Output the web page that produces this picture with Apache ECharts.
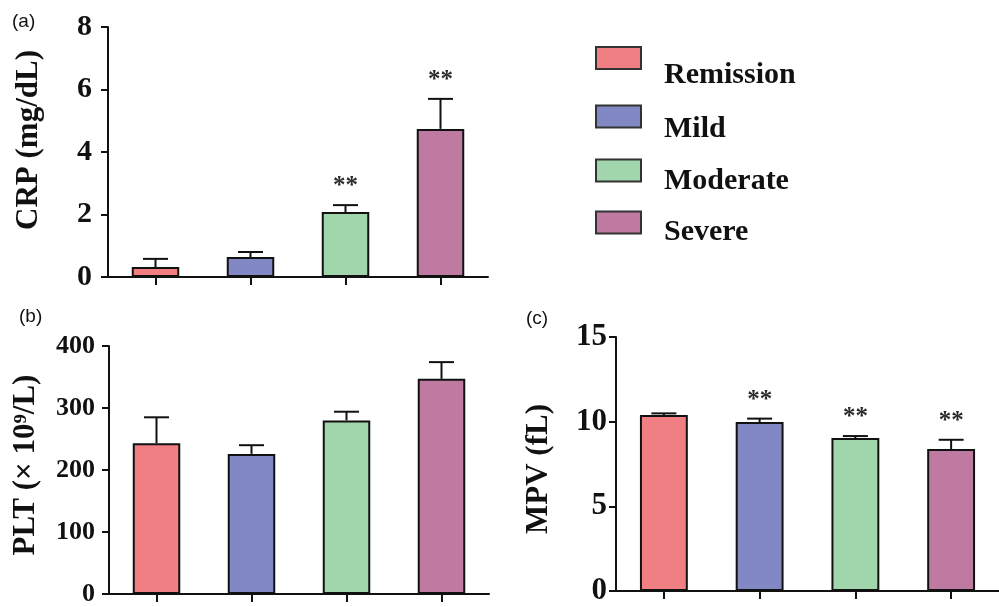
<!DOCTYPE html>
<html>
<head>
<meta charset="utf-8">
<script src="https://cdn.jsdelivr.net/npm/echarts@6/dist/echarts.min.js"></script>
<style>html,body{margin:0;padding:0;background:#fff;}#chart{width:999px;height:607px;}</style>
</head>
<body>
<div id="chart"></div>
<script>
// ---- data ----
const categories = ['Remission', 'Mild', 'Moderate', 'Severe'];
const crpMean = [0.32, 0.64, 2.08, 4.74];
const crpSd = [0.26, 0.16, 0.22, 0.96];
const crpSig = ['', '', '**', '**'];
const pltMean = [243, 226, 280, 347];
const pltSd = [42, 14, 14, 27];
const pltSig = ['', '', '', ''];
const mpvMean = [10.39, 9.98, 9.03, 8.38];
const mpvSd = [0.1, 0.2, 0.12, 0.55];
const mpvSig = ['', '**', '**', '**'];
const crpTicks = { min: 0, max: 8, interval: 2 };
const pltTicks = { min: 0, max: 400, interval: 100 };
const mpvTicks = { min: 0, max: 15, interval: 5 };

// ---- styles ----
const palette = ['#f07f84', '#8188c3', '#a1d5ab', '#be7aa0'];
const legendPadTop = [35, 26, 22, 20];
const serif = '"Liberation Serif", "DejaVu Serif", serif';
const ink = '#111';

const panels = [
  { mean: crpMean, sd: crpSd, sig: crpSig, ticks: crpTicks, name: 'CRP (mg/dL)',
    grid: { left: 108, top: 27, width: 380, height: 250 }, labelSize: 30, labelMargin: 16, nameGap: 64, namePad: [0, 0, 0, 24] },
  { mean: pltMean, sd: pltSd, sig: pltSig, ticks: pltTicks, name: 'PLT (× 10⁹/L)',
    grid: { left: 109, top: 346, width: 380, height: 250 }, labelSize: 26, labelMargin: 14, nameGap: 68, namePad: [0, 0, 0, 10] },
  { mean: mpvMean, sd: mpvSd, sig: mpvSig, ticks: mpvTicks, name: 'MPV (fL)',
    grid: { left: 616, top: 337, right: 0, height: 254 }, labelSize: 31, labelMargin: 9, nameGap: 62, namePad: [0, 10, 0, 0] }
];

const grids = [], xAxes = [], yAxes = [], series = [];
panels.forEach((p, k) => {
  grids.push(Object.assign({ containLabel: false }, p.grid));
  xAxes.push({
    type: 'category', gridIndex: k, data: categories,
    axisLine: { lineStyle: { color: ink, width: 2 } },
    axisTick: { show: true, alignWithLabel: true, length: 8, lineStyle: { color: ink, width: 2 } },
    axisLabel: { show: false }, splitLine: { show: false }
  });
  yAxes.push({
    type: 'value', gridIndex: k, min: p.ticks.min, max: p.ticks.max, interval: p.ticks.interval,
    name: p.name, nameLocation: 'middle', nameRotate: 90, nameGap: p.nameGap,
    nameTextStyle: { fontFamily: serif, fontWeight: 'bold', fontSize: 31, color: ink, padding: p.namePad },
    axisLine: { show: true, lineStyle: { color: ink, width: 2 } },
    axisTick: { show: true, length: 7, lineStyle: { color: ink, width: 2 } },
    axisLabel: { fontFamily: serif, fontWeight: 'bold', fontSize: p.labelSize, color: ink, margin: p.labelMargin },
    splitLine: { show: false }
  });
  categories.forEach((c, i) => {
    series.push({
      type: 'bar', name: c, xAxisIndex: k, yAxisIndex: k,
      data: categories.map((_, j) => (j === i ? p.mean[j] : '-')),
      barWidth: '50%', barGap: '-100%',
      itemStyle: { color: palette[i], borderColor: ink, borderWidth: 2 },
      emphasis: { disabled: true }, z: 2
    });
  });
  series.push({
    type: 'custom', xAxisIndex: k, yAxisIndex: k, z: 3,
    data: categories.map((_, j) => [j, p.mean[j], p.mean[j] + p.sd[j]]),
    encode: { x: 0, y: [1, 2] },
    renderItem: function (params, api) {
      const a = api.coord([api.value(0), api.value(1)]);
      const b = api.coord([api.value(0), api.value(2)]);
      const half = 12.5;
      const children = [
        { type: 'line', shape: { x1: a[0], y1: a[1], x2: b[0], y2: b[1] }, style: { stroke: ink, lineWidth: 2 } },
        { type: 'line', shape: { x1: b[0] - half, y1: b[1], x2: b[0] + half, y2: b[1] }, style: { stroke: ink, lineWidth: 2 } }
      ];
      const s = p.sig[params.dataIndex];
      if (s) {
        children.push({ type: 'text', x: b[0], y: b[1] - 6,
          style: { text: s, fontFamily: serif, fontWeight: 'bold', fontSize: 25, fill: '#2b2b2b', align: 'center', verticalAlign: 'bottom' } });
      }
      return { type: 'group', children: children };
    }
  });
});

const legendRich = {};
categories.forEach((c, i) => {
  legendRich['r' + i] = { fontFamily: serif, fontWeight: 'bold', fontSize: 30, color: ink,
    height: 64, padding: [legendPadTop[i], 0, 0, 18] };
});

const chart = echarts.init(document.getElementById('chart'), null, { renderer: 'canvas' });
chart.setOption({
  animation: false,
  backgroundColor: '#fff',
  grid: grids, xAxis: xAxes, yAxis: yAxes, series: series,
  legend: {
    data: categories, orient: 'vertical', left: 590, top: 41,
    selectedMode: false, icon: 'rect', itemWidth: 45, itemHeight: 22, itemGap: 14,
    itemStyle: { borderColor: '#333', borderWidth: 2 },
    formatter: function (name) { return '{r' + categories.indexOf(name) + '|' + name + '}'; },
    textStyle: { fontFamily: serif, fontWeight: 'bold', fontSize: 30, color: ink, rich: legendRich }
  },
  graphic: [
    { type: 'text', left: 12, top: 12, style: { text: '(a)', fontFamily: '"Liberation Sans", sans-serif', fontSize: 19, fill: '#111' } },
    { type: 'text', left: 19, top: 307, style: { text: '(b)', fontFamily: '"Liberation Sans", sans-serif', fontSize: 19, fill: '#111' } },
    { type: 'text', left: 526, top: 309, style: { text: '(c)', fontFamily: '"Liberation Sans", sans-serif', fontSize: 19, fill: '#111' } }
  ]
});
</script>
</body>
</html>
